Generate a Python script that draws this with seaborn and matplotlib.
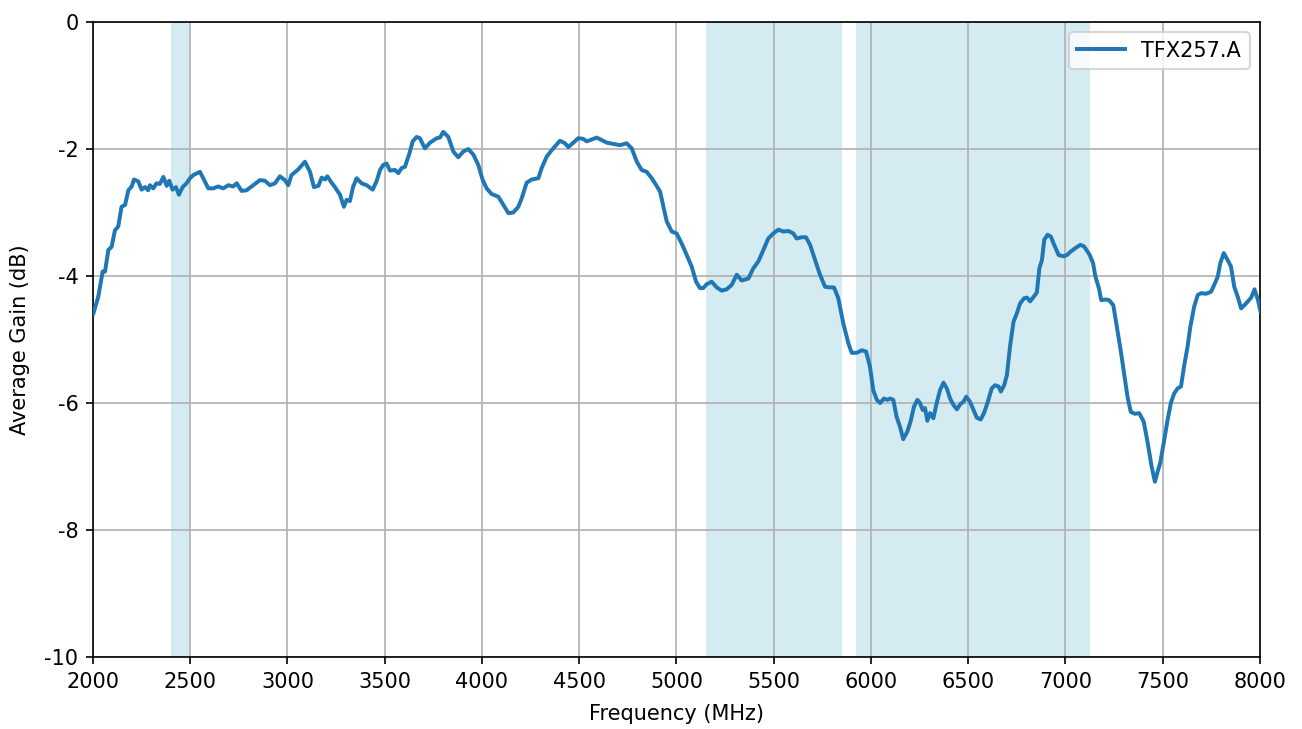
import matplotlib
matplotlib.use("Agg")
import matplotlib.pyplot as plt
import seaborn as sns
import pandas as pd

freq_mhz = [2002, 2027, 2050, 2062, 2079, 2096, 2113, 2130, 2147, 2165, 2182, 2199, 2211, 2233,
            2250, 2268, 2284, 2293, 2310, 2327, 2344, 2362, 2379, 2392, 2409, 2427, 2442, 2461,
            2481, 2499, 2516, 2550, 2567, 2593, 2619, 2644, 2670, 2696, 2721, 2739, 2764, 2790,
            2824, 2859, 2884, 2910, 2936, 2961, 2987, 3004, 3021, 3056, 3090, 3116, 3136, 3159,
            3176, 3193, 3205, 3222, 3244, 3270, 3290, 3304, 3321, 3338, 3356, 3381, 3407, 3438,
            3458, 3476, 3493, 3510, 3527, 3553, 3570, 3587, 3604, 3627, 3644, 3664, 3681, 3707,
            3733, 3767, 3784, 3801, 3827, 3853, 3878, 3904, 3930, 3956, 3981, 4004, 4024, 4050,
            4084, 4110, 4136, 4161, 4187, 4204, 4230, 4256, 4290, 4307, 4333, 4358, 4375, 4401,
            4427, 4444, 4470, 4495, 4521, 4539, 4564, 4590, 4616, 4642, 4676, 4710, 4744, 4770,
            4796, 4821, 4847, 4873, 4898, 4916, 4933, 4950, 4976, 5001, 5027, 5053, 5078, 5101,
            5121, 5138, 5155, 5181, 5207, 5232, 5258, 5284, 5310, 5335, 5370, 5395, 5421, 5447,
            5472, 5498, 5524, 5550, 5575, 5601, 5618, 5644, 5666, 5687, 5713, 5738, 5764, 5790,
            5810, 5832, 5858, 5884, 5901, 5927, 5952, 5975, 5995, 6012, 6030, 6047, 6067, 6084,
            6098, 6115, 6132, 6149, 6166, 6187, 6204, 6221, 6239, 6252, 6266, 6278, 6290, 6304,
            6321, 6338, 6355, 6373, 6390, 6407, 6424, 6442, 6459, 6476, 6490, 6509, 6527, 6544,
            6564, 6581, 6599, 6621, 6638, 6656, 6668, 6685, 6699, 6715, 6733, 6750, 6767, 6788,
            6802, 6818, 6836, 6853, 6866, 6879, 6891, 6908, 6925, 6942, 6965, 6990, 7008, 7025,
            7051, 7077, 7094, 7108, 7125, 7142, 7154, 7172, 7184, 7206, 7224, 7246, 7264, 7284,
            7301, 7319, 7336, 7357, 7379, 7402, 7423, 7443, 7460, 7474, 7487, 7508, 7525, 7542,
            7559, 7577, 7594, 7611, 7628, 7642, 7662, 7680, 7697, 7722, 7748, 7765, 7783, 7796,
            7814, 7834, 7851, 7868, 7886, 7903, 7920, 7938, 7955, 7972, 7990, 8003]

gain_db = [-4.59, -4.33, -3.93, -3.93, -3.59, -3.54, -3.28, -3.22, -2.91, -2.88, -2.65, -2.59, -2.48, -2.51,
           -2.64, -2.60, -2.65, -2.57, -2.62, -2.54, -2.55, -2.44, -2.58, -2.50, -2.64, -2.60, -2.72, -2.60,
           -2.54, -2.46, -2.41, -2.36, -2.46, -2.62, -2.62, -2.59, -2.62, -2.57, -2.59, -2.54, -2.66, -2.65,
           -2.57, -2.49, -2.50, -2.57, -2.54, -2.43, -2.49, -2.57, -2.41, -2.32, -2.20, -2.36, -2.60, -2.58,
           -2.45, -2.48, -2.43, -2.51, -2.60, -2.72, -2.91, -2.80, -2.82, -2.59, -2.46, -2.54, -2.57, -2.64,
           -2.51, -2.33, -2.25, -2.23, -2.34, -2.33, -2.38, -2.30, -2.28, -2.07, -1.88, -1.81, -1.83, -1.99,
           -1.90, -1.83, -1.82, -1.73, -1.81, -2.04, -2.13, -2.04, -2.00, -2.09, -2.25, -2.49, -2.62, -2.71,
           -2.75, -2.88, -3.01, -3.00, -2.91, -2.78, -2.53, -2.48, -2.46, -2.30, -2.12, -2.02, -1.96, -1.87,
           -1.91, -1.97, -1.90, -1.83, -1.84, -1.88, -1.85, -1.82, -1.86, -1.90, -1.92, -1.94, -1.91, -1.99,
           -2.20, -2.33, -2.36, -2.46, -2.58, -2.67, -2.91, -3.14, -3.30, -3.33, -3.49, -3.67, -3.85, -4.09,
           -4.19, -4.19, -4.13, -4.09, -4.18, -4.23, -4.21, -4.14, -3.98, -4.07, -4.04, -3.88, -3.77, -3.59,
           -3.41, -3.33, -3.27, -3.30, -3.29, -3.33, -3.41, -3.39, -3.39, -3.51, -3.75, -3.98, -4.17, -4.18,
           -4.18, -4.35, -4.75, -5.06, -5.21, -5.21, -5.17, -5.19, -5.43, -5.80, -5.95, -6.00, -5.93, -5.95,
           -5.93, -5.95, -6.22, -6.37, -6.57, -6.45, -6.29, -6.06, -5.95, -6.00, -6.11, -6.08, -6.28, -6.16,
           -6.24, -6.00, -5.80, -5.68, -5.77, -5.93, -6.03, -6.10, -6.02, -5.98, -5.90, -5.98, -6.11, -6.23,
           -6.26, -6.16, -6.00, -5.77, -5.72, -5.74, -5.82, -5.72, -5.56, -5.11, -4.72, -4.59, -4.43, -4.35,
           -4.34, -4.40, -4.33, -4.26, -3.88, -3.75, -3.43, -3.35, -3.38, -3.51, -3.67, -3.69, -3.67, -3.62,
           -3.56, -3.51, -3.53, -3.59, -3.67, -3.80, -4.01, -4.19, -4.38, -4.37, -4.38, -4.46, -4.80, -5.17,
           -5.53, -5.90, -6.14, -6.17, -6.16, -6.29, -6.63, -7.00, -7.24, -7.08, -6.95, -6.58, -6.27, -6.00,
           -5.85, -5.77, -5.74, -5.40, -5.11, -4.80, -4.48, -4.30, -4.27, -4.28, -4.25, -4.14, -4.01, -3.80,
           -3.64, -3.75, -3.85, -4.17, -4.33, -4.51, -4.46, -4.40, -4.34, -4.21, -4.38, -4.56]

band_start = [2400, 5150, 5925]
band_end = [2500, 5850, 7125]

series_name = "TFX257.A"
x_ticks = [2000, 2500, 3000, 3500, 4000, 4500, 5000, 5500, 6000, 6500, 7000, 7500, 8000]
y_ticks = [0, -2, -4, -6, -8, -10]

df = pd.DataFrame({"Frequency (MHz)": freq_mhz, "Average Gain (dB)": gain_db, "name": series_name})

plt.rcParams['font.family'] = ['DejaVu Sans']

fig = plt.figure(figsize=(8.68, 4.86), dpi=150)
ax = fig.add_axes([0.0714, 0.0988, 0.8963, 0.871])

for s, e in zip(band_start, band_end):
    ax.axvspan(s, e, color="#add8e6", alpha=0.5, lw=0, zorder=0)

sns.lineplot(data=df, x="Frequency (MHz)", y="Average Gain (dB)", hue="name",
             palette=["#1f77b4"], linewidth=1.9, ax=ax, zorder=3)

ax.set_xlim(2000, 8000)
ax.set_ylim(-10, 0)
ax.set_xticks(x_ticks)
ax.set_yticks(y_ticks)
ax.set_yticklabels([str(v) for v in y_ticks])
ax.grid(True, color="#b0b0b0", linewidth=0.8, zorder=1)
ax.set_axisbelow(True)
ax.set_xlabel("Frequency (MHz)", labelpad=6)
ax.set_ylabel("Average Gain (dB)", labelpad=7)

ax.legend(loc="upper right", handlelength=2.3)

fig.savefig("out.png", dpi=150)
